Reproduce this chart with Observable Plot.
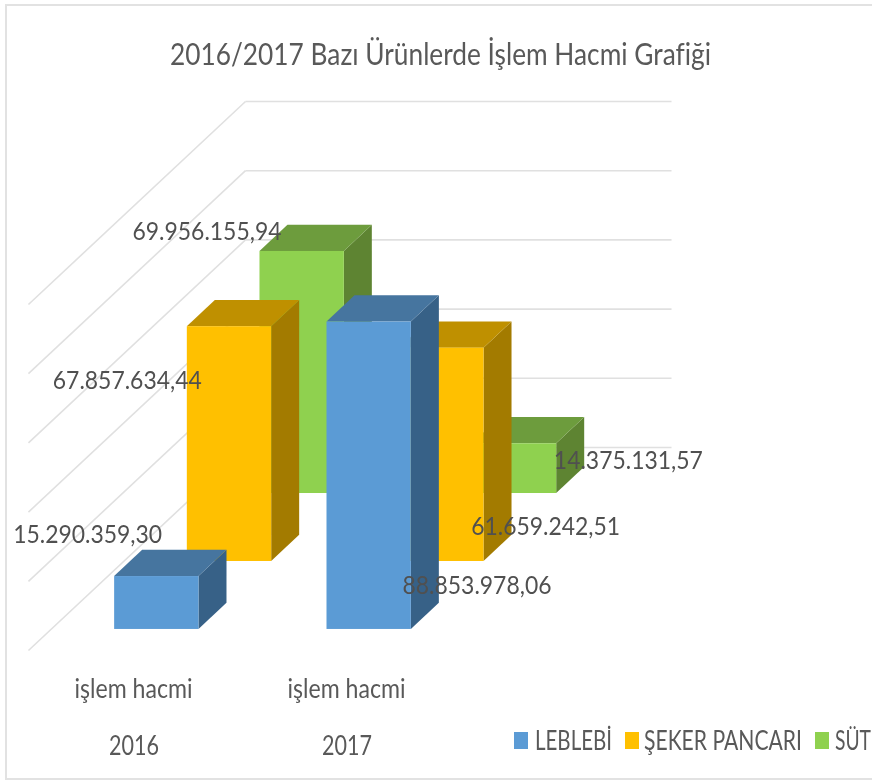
<!DOCTYPE html>
<html lang="tr">
<head>
<meta charset="utf-8">
<script src="https://cdn.jsdelivr.net/npm/d3@7"></script>
<script src="https://cdn.jsdelivr.net/npm/@observablehq/plot@0.6"></script>
<style>
  html, body { margin: 0; padding: 0; background: #fff; overflow: hidden; }
  #page { position: relative; width: 872px; height: 780px; overflow: hidden; font-family: Lato, "Open Sans", sans-serif; color: #595959; filter: blur(0.45px); }
  #frame { position: absolute; left: 5px; top: 4px; width: 900px; height: 772px; border: 2px solid #e2e2e2; box-sizing: content-box; }
  #chart { position: absolute; left: 0; top: 0; }
  #chart svg { display: block; background: transparent; }
  .fit { position: absolute; white-space: nowrap; transform-origin: 0 50%; line-height: 1; }
  #title { font-size: 31px; left: 170px; top: 38px; margin: 0; font-weight: 400; }
  .swatch { position: absolute; width: 14px; height: 17px; top: 732px; }
  .legend-label { font-size: 26px; top: 727px; }
</style>
</head>
<body>
<div id="page">
  <div id="frame"></div>
  <div id="chart"></div>
  <h1 class="fit" id="title">2016/2017 Bazı Ürünlerde İşlem Hacmi Grafiği</h1>
  <div id="legend"></div>
</div>
<script>
// ---- chart values ----
const years = ["2016", "2017"];
const measure = "işlem hacmi";
const seriesNames = ["LEBLEBİ", "ŞEKER PANCARI", "SÜT"];
const leblebi = [15290359.30, 88853978.06];
const sekerPancari = [67857634.44, 61659242.51];
const sut = [69956155.94, 14375131.57];
const levels = [0, 20e6, 40e6, 60e6, 80e6, 100e6];

// ---- styles ----
const frontColors = ["#5B9BD5", "#FFC000", "#8FD14F"];
const topColors = ["#46759F", "#BF9000", "#6D9C3D"];
const sideColors = ["#376187", "#A37B00", "#5E8432"];
const gridColor = "#E0E0E0";
const textColor = "#595959";
const labelColor = "#505050";

// ---- oblique 3D projection, in units of the two scales ----
const skewX = 1.019;     // x units of shift for a full depth
const skewY = 58.67e6;   // value units of shift for a full depth
const px = (x, depth) => x - depth * skewX;
const py = (v, depth) => v - depth * skewY;
const halfWidth = 0.198;
const halfDepth = 0.0645;
const seriesDepth = [5 / 6 - 0.0015, 1 / 2 - 0.003, 1 / 6 - 0.0045];
const seriesValues = [leblebi, sekerPancari, sut];

const fmt = d3.formatLocale({decimal: ",", thousands: ".", grouping: [3]}).format(",.2f");

// label nudges relative to each bar's front top-left corner: [series][year] -> [dx, dy]
const labelNudge = [
  [[-27, -42], [150, 264]],
  [[-60, 54], [146, 179]],
  [[-53, -19], [156, 17]]
];

const bars = seriesNames.map((name, s) => years.map((year, c) => {
  const cx = c + 0.5 - 0.003 * (1 + c), v = seriesValues[s][c], zf = seriesDepth[s] + halfDepth, zb = seriesDepth[s] - halfDepth;
  return {name, year, s, c, v, cx, zf, zb};
}));

const marks = [];

// wall and side-wall gridlines
marks.push(Plot.link(levels, {x1: px(0, 0), x2: px(2, 0), y1: d => py(d, 0), y2: d => py(d, 0), stroke: gridColor, strokeWidth: 1.6}));
marks.push(Plot.link(levels, {x1: px(0, 0), x2: px(0, 1), y1: d => py(d, 0), y2: d => py(d, 1), stroke: gridColor, strokeWidth: 1.6}));

// bars, painted from the back series to the front one
[2, 1, 0].forEach(s => {
  const row = bars[s];
  const side = row.flatMap(b => [
    {k: b.year, x1: px(b.cx + halfWidth, b.zf), y1: py(0, b.zf), x2: px(b.cx + halfWidth, b.zf), y2: py(b.v, b.zf)},
    {k: b.year, x1: px(b.cx + halfWidth, b.zb), y1: py(0, b.zb), x2: px(b.cx + halfWidth, b.zb), y2: py(b.v, b.zb)}
  ]);
  const top = row.flatMap(b => [
    {k: b.year, x1: px(b.cx - halfWidth, b.zf), y1: py(b.v, b.zf), x2: px(b.cx + halfWidth, b.zf), y2: py(b.v, b.zf)},
    {k: b.year, x1: px(b.cx - halfWidth, b.zb), y1: py(b.v, b.zb), x2: px(b.cx + halfWidth, b.zb), y2: py(b.v, b.zb)}
  ]);
  marks.push(Plot.area(side, {x1: "x1", y1: "y1", x2: "x2", y2: "y2", z: "k", fill: sideColors[s]}));
  marks.push(Plot.area(top, {x1: "x1", y1: "y1", x2: "x2", y2: "y2", z: "k", fill: topColors[s]}));
  marks.push(Plot.rect(row, {
    x1: b => px(b.cx - halfWidth, b.zf), x2: b => px(b.cx + halfWidth, b.zf),
    y1: b => py(0, b.zf), y2: b => py(b.v, b.zf), fill: frontColors[s]
  }));
});

// value labels
bars.flat().forEach(b => {
  const [dx, dy] = labelNudge[b.s][b.c];
  marks.push(Plot.text([b], {
    x: d => px(d.cx - halfWidth, d.zf), y: d => py(d.v, d.zf), text: d => fmt(d.v),
    dx, dy, fontSize: 25, fill: labelColor, textAnchor: "middle"
  }));
});

// category labels, under the front edge of the floor
marks.push(Plot.text(years, {x: (d, i) => px(i + 0.5, 1), y: () => py(0, 1), text: () => measure, dx: -1.5, dy: 39, fontSize: 27, fill: textColor, textAnchor: "middle"}));
marks.push(Plot.text(years, {x: (d, i) => px(i + 0.5, 1), y: () => py(0, 1), text: d => d, dx: -1, dy: 96, fontSize: 27, fill: textColor, textAnchor: "middle"}));

const plot = Plot.plot({
  width: 872, height: 780,
  margin: 0,
  x: {domain: [0, 2], range: [245, 671], axis: null},
  y: {domain: [0, 100e6], range: [447, 101], axis: null},
  style: {fontFamily: 'Lato, "Open Sans", sans-serif', background: "transparent"},
  marks
});
document.getElementById("chart").append(plot);

// squeeze the text to the narrow widths of the reference face
const textWidths = new Map([[measure, 118], ["2016", 50], ["2017", 50]]);
plot.querySelectorAll("text").forEach(t => {
  const w = textWidths.get(t.textContent) ?? 149;
  t.setAttribute("textLength", w);
  t.setAttribute("lengthAdjust", "spacingAndGlyphs");
});

// legend
const legend = document.getElementById("legend");
const legendX = [514, 625, 815];
const legendLabelX = [535, 644, 835];
const legendLabelW = [77, 158, 36];
seriesNames.forEach((name, i) => {
  const sw = document.createElement("div");
  sw.className = "swatch";
  sw.style.left = legendX[i] + "px";
  sw.style.background = frontColors[i];
  legend.append(sw);
  const l = document.createElement("div");
  l.className = "fit legend-label";
  l.style.left = legendLabelX[i] + "px";
  l.textContent = name;
  legend.append(l);
  l.style.transform = `scaleX(${legendLabelW[i] / l.getBoundingClientRect().width})`;
});
const title = document.getElementById("title");
title.style.transform = `scaleX(${541 / title.getBoundingClientRect().width})`;
</script>
</body>
</html>
